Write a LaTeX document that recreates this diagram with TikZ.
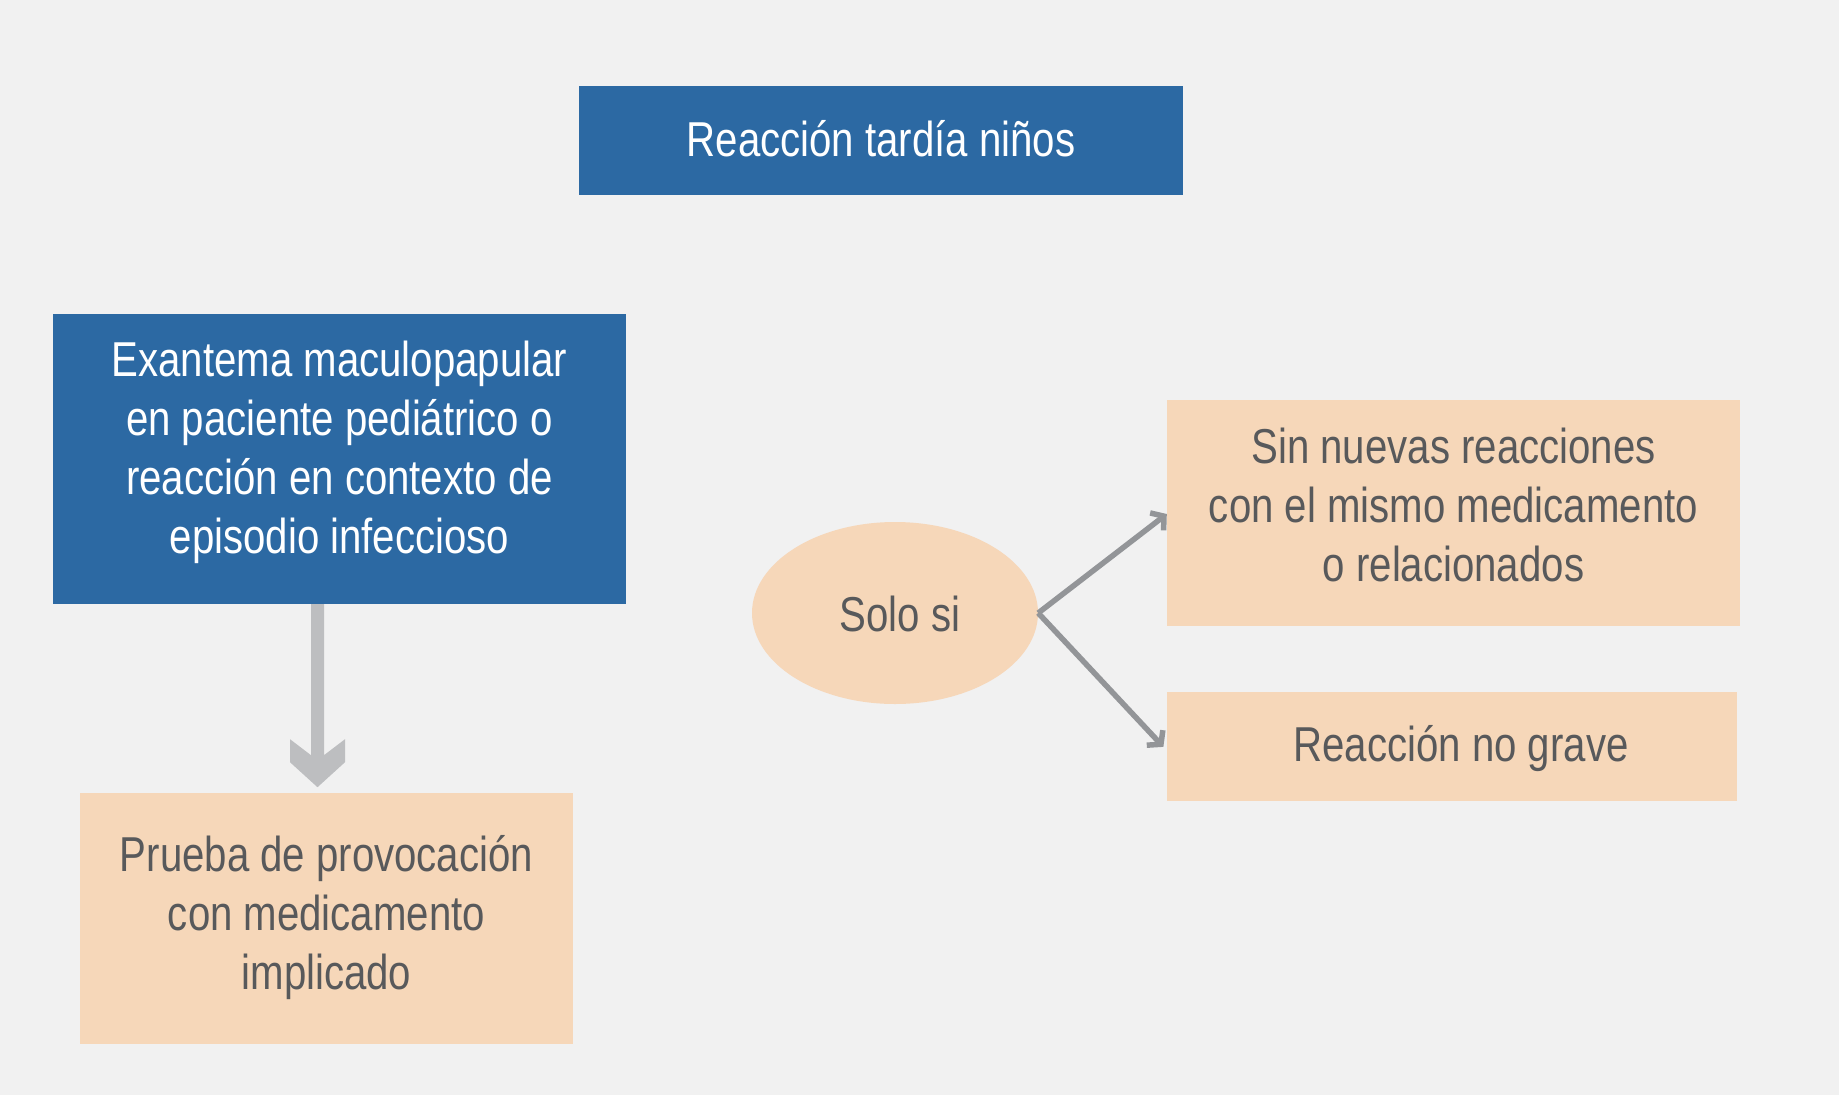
\documentclass[tikz,border=0pt]{standalone}
\usepackage{fontspec}
\setmainfont[FakeStretch=0.82]{Liberation Sans}
\usetikzlibrary{shapes.geometric,arrows.meta,calc}
\definecolor{bg}{HTML}{F1F1F1}
\definecolor{blu}{HTML}{2C69A3}
\definecolor{peach}{HTML}{F6D7B9}
\definecolor{txt}{HTML}{58595B}
\definecolor{conn}{HTML}{939598}
\definecolor{bigarr}{HTML}{BDBEC0}
\begin{document}
\begin{tikzpicture}[x=1pt,y=-1pt,
  base/.style={inner sep=0pt, align=center, font=\fontsize{49}{59}\selectfont},
  bluebox/.style={rectangle, inner sep=0pt, fill=blu},
  peachbox/.style={rectangle, inner sep=0pt, fill=peach},
  wtext/.style={base, text=white},
  gtext/.style={base, text=txt},
  link/.style={draw=conn, line width=5.5pt, -{Straight Barb[length=9pt,width=22pt]}}]
\fill[bg] (0,0) rectangle (1839,1095);
\node[bluebox, minimum width=604pt, minimum height=109pt] (title) at (881,140.5) {};
\node[wtext] (titlet) at ($(title.center)+(0,-2)$) {Reacción tardía niños};
\node[bluebox, minimum width=573pt, minimum height=290pt] (ex) at (339.5,459) {};
\node[wtext] (ext) at ($(ex.center)+(0,-7)$) {Exantema maculopapular\\en paciente pediátrico o\\reacción en contexto de\\episodio infeccioso};
\node[peachbox, minimum width=493pt, minimum height=251pt] (pr) at (326.5,918.5) {};
\node[gtext] (prt) at ($(pr.center)+(0,-1)$) {Prueba de provocación\\con medicamento\\implicado};
\node[ellipse, inner sep=0pt, fill=peach, minimum width=286pt, minimum height=182pt] (sol) at (895,613) {};
\node[gtext] (solt) at ($(sol.center)+(5,1)$) {Solo si};
\node[peachbox, minimum width=573pt, minimum height=226pt] (rt) at (1453.5,513) {};
\node[gtext] (rtt) at ($(rt.center)+(0,-8)$) {Sin nuevas reacciones\\con el mismo medicamento\\o relacionados};
\node[peachbox, minimum width=570pt, minimum height=109pt] (rb) at (1452,746.5) {};
\node[gtext] (rbt) at ($(rb.center)+(9,2)$) {Reacción no grave};
% big down arrow
\coordinate (atop) at ($(ex.south)+(-22,0)$);
\fill[bigarr] (atop) ++(-6.5,0) -- ++(0,151) -- ++(-21,-16) -- ++(0,23) -- ++(27.5,25) -- ++(27.5,-25) -- ++(0,-23) -- ++(-21,16) -- ++(0,-151) -- cycle;
% connectors
\draw[link] (sol.east) -- ($(rt.west)+(0,1)$);
\draw[link, shorten >=5pt] (sol.east) -- ($(rb.west)+(0,4)$);
\end{tikzpicture}
\end{document}
